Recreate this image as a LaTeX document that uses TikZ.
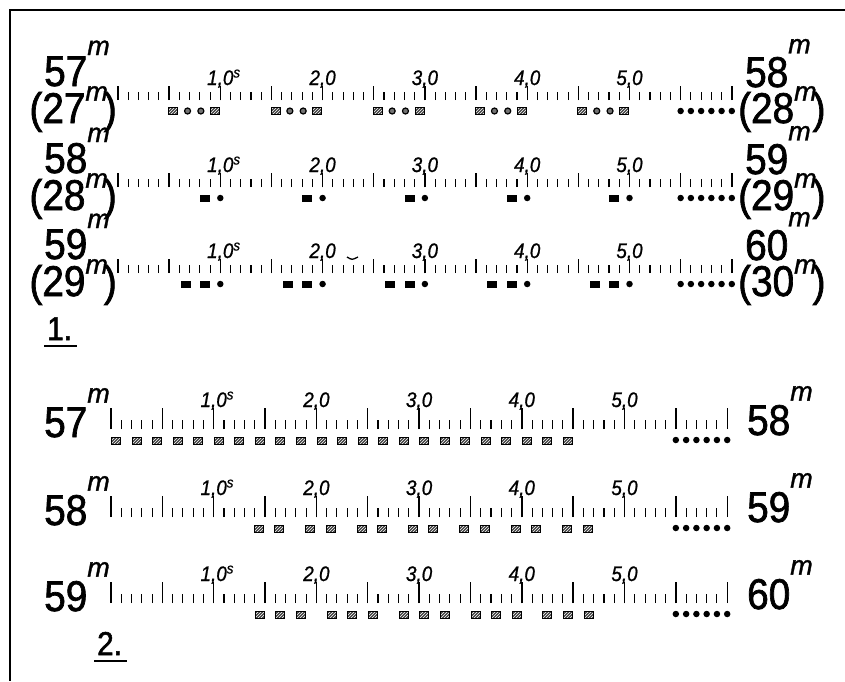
\documentclass[tikz,border=0pt]{standalone}
\usepackage{fontspec}
\setmainfont{Liberation Sans}
\newfontfamily\bigdigits[FakeStretch=0.9,FakeBold=1.6]{Liberation Sans}
\newfontfamily\tickdigits[FakeStretch=0.9,FakeBold=0.8]{Liberation Sans}
\newfontfamily\minfont[FakeBold=1.2]{Liberation Sans}
\usetikzlibrary{patterns}

% raised minute sign (#1 = raise)
\newcommand{\supm}[1][0.72em]{\raisebox{#1}{\minfont\fontsize{27}{27}\selectfont\itshape m}}

\tikzset{
  frameline/.style={line width=1.5pt},
  tickmark/.style={line width=1.1pt},
  bigtick/.style={line width=1.4pt},
  minlabel/.style={inner sep=0pt,font=\bigdigits\fontsize{43}{43}\selectfont},
  seclabel/.style={inner sep=0pt,font=\tickdigits\itshape\fontsize{21}{21}\selectfont},
  partlabel/.style={inner sep=0pt,font=\bigdigits\fontsize{33}{33}\selectfont},
  underl/.style={line width=2.4pt},
  hatchbox/.style={rectangle,draw=black,line width=1pt,inner sep=0pt,
    minimum width=9pt,minimum height=7pt,preaction={fill=black!75},
    pattern=north east lines,pattern color=white},
  blackbox/.style={rectangle,fill=black,inner sep=0pt,minimum width=10pt,minimum height=7pt},
  ringdot/.style={circle,draw=black,line width=1.2pt,fill=black!55,inner sep=0pt,minimum size=6pt},
  blackdot/.style={circle,fill=black,inner sep=0pt,minimum size=6.5pt}
}

% one minute of seconds: #1 small tick, #2 long tick, #3 label height, #4 prefix
\newcommand{\minutescale}[4]{%
  \foreach \s in {1,...,59} \draw[tickmark] (\s,0) -- (\s,-#1);
  \foreach \s in {0,5,...,60} \draw[bigtick] (\s,0) -- (\s,-#2);
  \foreach \s in {10,20,...,50} \draw[bigtick] (\s,0) -- (\s,-#3+1);
  \foreach \s/\a in {10/1,20/2,30/3,40/4,50/5}
    \node[seclabel,anchor=base] (#4l\s) at (\s,-#3)
      {\llap{\a},\rlap{0\ifnum\s=10 \textsuperscript{s}\fi}};
  \foreach \s in {55,...,60} \node[blackdot] (#4d\s) at (\s,11) {};
}

\begin{document}
\begin{tikzpicture}[x=1pt,y=-1pt]
  \useasboundingbox (0,0) rectangle (845,681);
  \draw[frameline] (845,10) -- (10,10) -- (10,681);

  % 1.
  \begin{scope}[shift={(118,100)},x=10.23pt]
    \minutescale{8}{14}{15}{a}
    \foreach \g in {0,10,...,40} {
      \node[hatchbox] (a\g-q) at (\g+5.4,11) {};
      \node[ringdot] (a\g-r) at (\g+6.8,11) {};
      \node[ringdot] (a\g-s) at (\g+8.1,11) {};
      \node[hatchbox] (a\g-t) at (\g+9.5,11) {};
    }
  \end{scope}
  \begin{scope}[shift={(118,187)},x=10.23pt]
    \minutescale{8}{14}{15}{b}
    \foreach \g in {0,10,...,40} {
      \node[blackbox] (b\g-q) at (\g+8.5,11) {};
      \node[blackdot] (b\g-r) at (\g+10,11) {};
    }
  \end{scope}
  \begin{scope}[shift={(118,273)},x=10.23pt]
    \minutescale{8}{14}{15}{c}
    \foreach \g in {0,10,...,40} {
      \node[blackbox] (c\g-q) at (\g+6.6,11) {};
      \node[blackbox] (c\g-r) at (\g+8.5,11) {};
      \node[blackdot] (c\g-s) at (\g+10,11) {};
    }
  \end{scope}
  \draw[line width=1.3pt] (347,257) .. controls (352,260) .. (358,257);

  \node[minlabel,anchor=base east] (m57a) at (110,86) {57\supm};
  \node[minlabel,anchor=base east] (m27a) at (117,123) {(27\supm[0.52em]\kern-4pt)};
  \node[minlabel,anchor=base west] (m58a) at (745,87) {58\supm[0.78em]};
  \node[minlabel,anchor=base west] (m28a) at (738,123) {(28\supm[0.52em]\kern-4pt)};
  \node[minlabel,anchor=base east] (m58b) at (110,173) {58\supm};
  \node[minlabel,anchor=base east] (m28b) at (117,210) {(28\supm[0.52em]\kern-4pt)};
  \node[minlabel,anchor=base west] (m59b) at (745,174) {59\supm[0.78em]};
  \node[minlabel,anchor=base west] (m29b) at (738,210) {(29\supm[0.52em]\kern-4pt)};
  \node[minlabel,anchor=base east] (m59c) at (110,259) {59\supm};
  \node[minlabel,anchor=base east] (m29c) at (117,296) {(29\supm[0.52em]\kern-4pt)};
  \node[minlabel,anchor=base west] (m60c) at (745,260) {60\supm[0.78em]};
  \node[minlabel,anchor=base west] (m30c) at (738,296) {(30\supm[0.52em]\kern-4pt)};

  \node[partlabel,anchor=base west] (part1) at (47,340) {1.};
  \draw[underl] ([xshift=-3pt,yshift=-6pt]part1.base west) -- ([xshift=5pt,yshift=-6pt]part1.base east);

  % 2.
  \begin{scope}[shift={(111,429)},x=10.27pt]
    \minutescale{9}{21}{22}{d}
    \foreach \k in {0,...,22} \node[hatchbox] (d\k) at (2*\k+0.5,12) {};
  \end{scope}
  \begin{scope}[shift={(111,517)},x=10.27pt]
    \minutescale{9}{21}{22}{e}
    \foreach \k in {0,...,6} {
      \node[hatchbox] (e\k-p) at (5*\k+14.4,12) {};
      \node[hatchbox] (e\k-q) at (5*\k+16.4,12) {};
    }
  \end{scope}
  \begin{scope}[shift={(111,603)},x=10.27pt]
    \minutescale{9}{21}{22}{f}
    \foreach \k in {0,...,4} {
      \node[hatchbox] (f\k-p) at (7*\k+14.5,12) {};
      \node[hatchbox] (f\k-q) at (7*\k+16.5,12) {};
      \node[hatchbox] (f\k-r) at (7*\k+18.5,12) {};
    }
  \end{scope}

  \node[minlabel,anchor=base east] (m57d) at (110,437) {57\supm[0.8em]};
  \node[minlabel,anchor=base west] (m58d) at (747,435) {58\supm[0.8em]};
  \node[minlabel,anchor=base east] (m58e) at (110,525) {58\supm[0.8em]};
  \node[minlabel,anchor=base west] (m59e) at (747,522) {59\supm[0.8em]};
  \node[minlabel,anchor=base east] (m59f) at (110,611) {59\supm[0.8em]};
  \node[minlabel,anchor=base west] (m60f) at (747,609) {60\supm[0.8em]};

  \node[partlabel,anchor=base west] (part2) at (97,655) {2.};
  \draw[underl] ([xshift=-3pt,yshift=-6pt]part2.base west) -- ([xshift=5pt,yshift=-6pt]part2.base east);
\end{tikzpicture}
\end{document}
